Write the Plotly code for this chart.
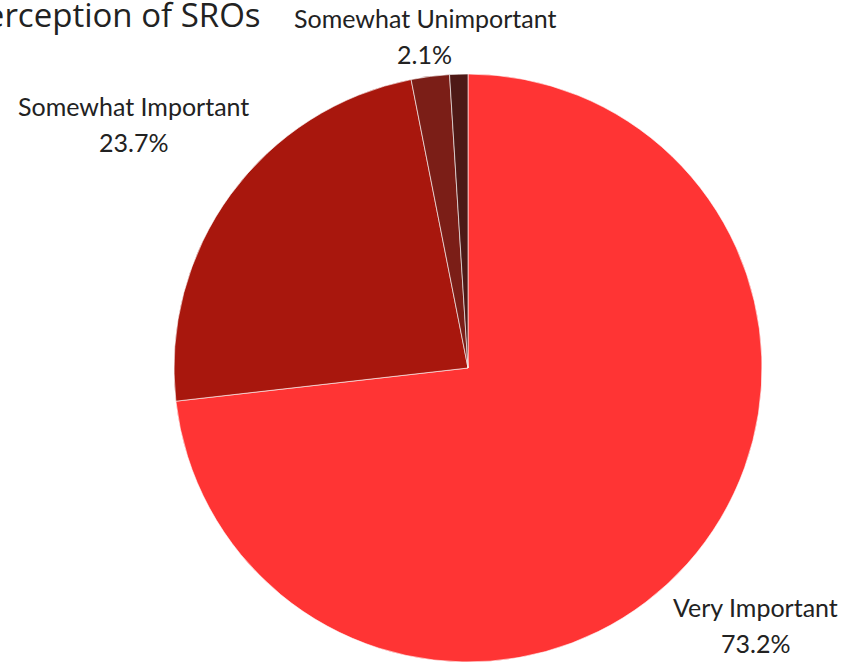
import math
import plotly.graph_objects as go

# ---- data ----
categories = ["Very Important", "Somewhat Important", "Somewhat Unimportant", "Not Important"]
values = [73.2, 23.7, 2.1, 1.0]
show_label = [True, True, True, False]
title_text = "Perception of SROs"

# ---- styles ----
colors = ["#ff3434", "#a8170d", "#7b1e17", "#4e1916"]
label_radius = [1.311, 1.408, 1.139, 1.2]   # label centre distance, in pie radii
W, H = 848, 662
CX, CY, R = 468, 368, 294  # pie centre / radius in pixels
FONT = "Lato, Inter, sans-serif"
TXT = "#222222"
LINE_GAP = 36

fig = go.Figure(go.Pie(
    labels=categories,
    values=values,
    sort=False,
    direction="clockwise",
    rotation=0,
    marker=dict(colors=colors, line=dict(color="rgba(255,255,255,0.6)", width=1)),
    textinfo="none",
    hoverinfo="label+percent",
    domain=dict(x=[(CX - R) / W, (CX + R) / W], y=[(H - CY - R) / H, (H - CY + R) / H]),
    showlegend=False,
))

annotations = []
total = sum(values)
cum = 0.0
for cat, v, show, f in zip(categories, values, show_label, label_radius):
    mid = (cum + v / 2) / total * 2 * math.pi
    cum += v
    if not show:
        continue
    px = CX + f * R * math.sin(mid)
    py = CY - f * R * math.cos(mid)
    pct = f"{v / total * 100:.1f}%"
    for txt, dy in ((cat, -LINE_GAP / 2), (pct, LINE_GAP / 2)):
        annotations.append(dict(
            x=px / W, y=1 - (py + dy) / H, xref="paper", yref="paper",
            text=txt, showarrow=False, xanchor="center", yanchor="middle",
            align="center", font=dict(family=FONT, size=25, color=TXT),
        ))

# title, partly cut off at the left edge (as in the source image)
annotations.append(dict(
    x=263 / W, y=1 - 15 / H, xref="paper", yref="paper", text=title_text,
    showarrow=False, xanchor="right", yanchor="middle",
    font=dict(family="Open Sans, sans-serif", size=33, color=TXT),
))

fig.update_layout(
    width=W, height=H,
    margin=dict(l=0, r=0, t=0, b=0),
    paper_bgcolor="white", plot_bgcolor="white",
    annotations=annotations,
)

fig.write_html(
    "out.html",
    config={"displayModeBar": False},
    post_script="document.body.style.margin='0';document.body.style.overflow='hidden';",
)
